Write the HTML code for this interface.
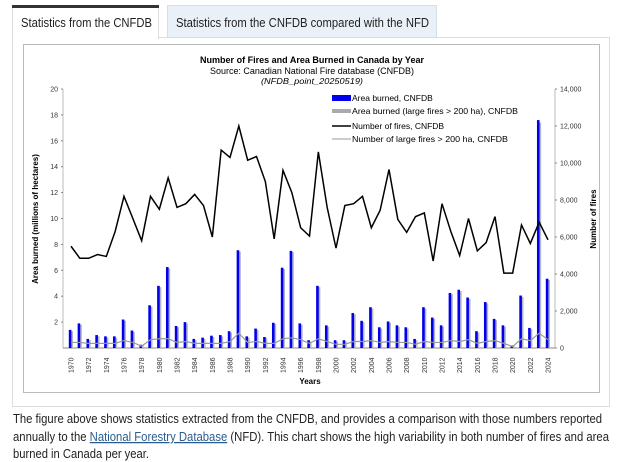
<!DOCTYPE html>
<html><head><meta charset="utf-8"><style>
html,body{margin:0;padding:0;background:#fff;}
svg{display:block;font-family:"Liberation Sans",Arial,sans-serif;}
</style></head><body>
<svg id="c" width="624" height="462" viewBox="0 0 624 462" xmlns="http://www.w3.org/2000/svg">
<rect x="12.5" y="37.5" width="597" height="369" fill="none" stroke="#ddd"/>
<g>
<rect x="12.5" y="6.5" width="146" height="32" fill="#fff" stroke="#ddd"/>
<rect x="12" y="5" width="147" height="3" fill="#333"/>
<rect x="13" y="36" width="145" height="3" fill="#fff"/>
<text x="21" y="27" font-size="12.5" fill="#222" textLength="131" lengthAdjust="spacingAndGlyphs">Statistics from the CNFDB</text>
</g>
<g>
<rect x="167.5" y="5.5" width="269" height="32" fill="#e9f0f8" stroke="#d6dde6"/>
<text x="176" y="27" font-size="12.5" fill="#222" textLength="253" lengthAdjust="spacingAndGlyphs">Statistics from the CNFDB compared with the NFD</text>
</g>
<rect x="23.5" y="44.5" width="576" height="348" fill="#fff" stroke="#bbb"/>
<g text-anchor="middle" fill="#000">
<text x="312" y="63" font-size="9" font-weight="bold" textLength="224" lengthAdjust="spacingAndGlyphs">Number of Fires and Area Burned in Canada by Year</text>
<text x="312" y="74" font-size="9" textLength="204" lengthAdjust="spacingAndGlyphs">Source: Canadian National Fire database (CNFDB)</text>
<text x="312" y="84" font-size="8" font-style="italic" textLength="102" lengthAdjust="spacingAndGlyphs">(NFDB_point_20250519)</text>
</g>
<g id="plot"></g>
<g font-size="8.5" fill="#000">
<rect x="332" y="95" width="19" height="6" fill="#0000ee"/><text x="352" y="101">Area burned, CNFDB</text>
<rect x="332" y="109" width="19" height="4" fill="#aaa"/><text x="352" y="114" textLength="166" lengthAdjust="spacingAndGlyphs">Area burned (large fires &gt; 200 ha), CNFDB</text>
<line x1="332" y1="126" x2="351" y2="126" stroke="#000" stroke-width="1.5"/><text x="352" y="129">Number of fires, CNFDB</text>
<line x1="332" y1="139" x2="351" y2="139" stroke="#999" stroke-width="1"/><text x="352" y="142" textLength="156" lengthAdjust="spacingAndGlyphs">Number of large fires &gt; 200 ha, CNFDB</text>
</g>
<g font-size="12.5" fill="#222">
<text x="13" y="423" textLength="589" lengthAdjust="spacingAndGlyphs">The figure above shows statistics extracted from the CNFDB, and provides a comparison with those numbers reported</text>
<text x="13" y="441" textLength="596" lengthAdjust="spacingAndGlyphs">annually to the <tspan fill="#2a5d8f" text-decoration="underline">National Forestry Database</tspan> (NFD). This chart shows the high variability in both number of fires and area</text>
<text x="13" y="458" textLength="136" lengthAdjust="spacingAndGlyphs">burned in Canada per year.</text>
</g>
</svg>
<script>
const years=[];for(let y=1970;y<=2024;y++)years.push(y);
const areaBurned=[1.4,1.9,0.7,1.0,0.9,0.9,2.2,1.35,0.25,3.3,4.8,6.25,1.7,2.0,0.7,0.8,0.95,1.0,1.3,7.55,0.9,1.5,0.85,1.95,6.2,7.5,1.9,0.6,4.8,1.75,0.6,0.6,2.7,2.1,3.15,1.6,2.05,1.75,1.6,0.7,3.15,2.35,1.75,4.25,4.5,3.9,1.3,3.55,2.25,1.75,0.2,4.05,1.55,17.6,5.35];
const areaLarge=[1.3,1.8,0.6,0.9,0.8,0.8,2.1,1.25,0.2,3.2,4.7,6.15,1.6,1.9,0.6,0.7,0.85,0.9,1.2,7.45,0.8,1.4,0.75,1.85,6.1,7.4,1.8,0.5,4.7,1.65,0.5,0.5,2.6,2.0,3.05,1.5,1.95,1.65,1.5,0.6,3.05,2.25,1.65,4.15,4.4,3.8,1.2,3.45,2.15,1.65,0.15,3.95,1.45,17.4,5.25];
const fires=[5500,4850,4850,5050,4950,6300,8200,7000,5800,8200,7500,9200,7600,7800,8300,7700,6000,10700,10300,12000,10150,10350,9000,5900,9600,8400,6500,6050,10600,7600,5400,7700,7800,8200,6500,7450,9650,6950,6250,7100,7300,4700,7800,6300,5000,7000,5250,5700,7100,4050,4050,6650,5650,6800,5850];
const largeFires=[300,300,250,250,250,250,400,300,100,450,500,500,300,350,250,250,250,250,350,800,300,350,250,250,500,550,450,250,500,350,200,200,350,350,400,300,350,300,300,200,350,300,300,400,350,450,250,350,400,250,80,500,400,800,450];
const leftTicks=[2,4,6,8,10,12,14,16,18,20];
const rightTicks=[0,2000,4000,6000,8000,10000,12000,14000];
const X0=71,X1=548,Y0=348,Y1=89;
const x=i=>X0+(X1-X0)*i/(years.length-1);
const yL=v=>Y0-(Y0-Y1)*v/20;
const yR=v=>Y0-(Y0-Y1)*v/14000;
const NS="http://www.w3.org/2000/svg";
const plot=document.getElementById('plot');
function mk(t,a,p){const e=document.createElementNS(NS,t);for(const k in a)e.setAttribute(k,a[k]);(p||plot).appendChild(e);return e;}
let e=mk('line',{x1:63,y1:Y0,x2:555,y2:Y0,stroke:'#888','stroke-width':1});


e=mk('line',{x1:63,y1:Y1,x2:63,y2:Y0,stroke:'#aaa','stroke-width':0.8});


e=mk('line',{x1:555,y1:Y1,x2:555,y2:Y0,stroke:'#aaa','stroke-width':0.8});


leftTicks.forEach(v=>{
 mk('line',{x1:61,y1:yL(v),x2:63,y2:yL(v),stroke:'#888'});
 const t=mk('text',{x:58,y:yL(v)+2.5,'font-size':7,'text-anchor':'end',fill:'#333'});t.textContent=v;
 
 
});
rightTicks.forEach(v=>{
 mk('line',{x1:555,y1:yR(v),x2:557,y2:yR(v),stroke:'#888'});
 const t=mk('text',{x:560,y:yR(v)+2.5,'font-size':7,fill:'#333'});t.textContent=v.toLocaleString('en-US');
 
 
});
years.forEach((yr,i)=>{
 const b=mk('rect',{x:x(i)-1.5,y:yL(areaLarge[i]),width:3.5,height:Y0-yL(areaLarge[i]),fill:'#b4b4c4'});
 
 
 const a=mk('rect',{x:x(i)-2.2,y:yL(areaBurned[i]),width:2.6,height:Y0-yL(areaBurned[i]),fill:'#0000ee'});
 
 
 if(i%2===0){const t=mk('text',{transform:`translate(${x(i)+2.5},${Y0+25}) rotate(-90)`,'font-size':7,fill:'#333'});t.textContent=yr;
 
 }
});
const l1=mk('polyline',{points:largeFires.map((v,i)=>x(i)+','+yR(v)).join(' '),fill:'none',stroke:'#999','stroke-width':1.2});


const l2=mk('polyline',{points:fires.map((v,i)=>x(i)+','+yR(v)).join(' '),fill:'none',stroke:'#000','stroke-width':1.5});


let t=mk('text',{x:310,y:384,'font-size':8,'font-weight':'bold','text-anchor':'middle'});t.textContent='Years';


t=mk('text',{transform:'translate(38,219) rotate(-90)','font-size':8,'font-weight':'bold','text-anchor':'middle'});t.textContent='Area burned (millions of hectares)';


t=mk('text',{transform:'translate(596,219) rotate(-90)','font-size':8,'font-weight':'bold','text-anchor':'middle'});t.textContent='Number of fires';


</script>
</body></html>
